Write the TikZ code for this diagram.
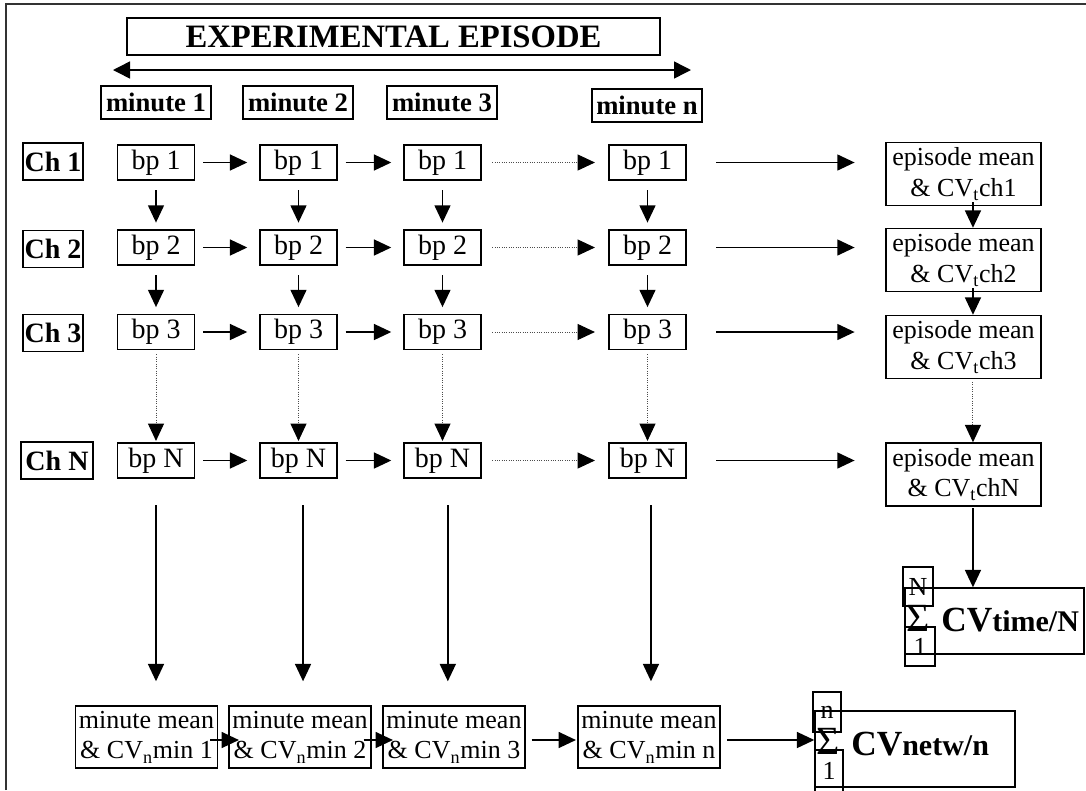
\documentclass[tikz,border=0pt]{standalone}
\usepackage{fontspec}
\setmainfont{Liberation Serif}
\usetikzlibrary{arrows.meta}
\tikzset{
  arr/.style={line width=1.1pt,-{Triangle[length=13pt,width=12pt]}},
  darr/.style={line width=0.75pt,draw=black!70,densely dotted,-{Triangle[length=13pt,width=12pt,color=black]}},
  box/.style={draw,line width=1.1pt,inner sep=0pt,align=center,font=\fontsize{19.5}{23}\selectfont},
  hbox/.style={box,font=\bfseries\fontsize{20}{24}\selectfont},
  chbox/.style={box,font=\bfseries\fontsize{21}{24}\selectfont,minimum height=27.75pt},
  mbox/.style={hbox,minimum width=82.5pt,minimum height=25pt},
  bpbox/.style={box,font=\fontsize{21}{24}\selectfont,minimum width=57.75pt,minimum height=26.25pt},
  epbox/.style={box,minimum width=116.25pt,minimum height=47.25pt},
  mmbox/.style={box,minimum width=106.5pt,minimum height=46.5pt},
  smbox/.style={box,minimum width=22.5pt,minimum height=29.25pt},
  sig/.style={inner sep=0pt,font=\fontsize{30}{30}\selectfont},
  big/.style={inner sep=0pt,anchor=base west,font=\bfseries},
}
\begin{document}
\begin{tikzpicture}[x=0.75pt,y=-0.75pt]
\useasboundingbox (0,0) rectangle (1086,790);
\draw[line width=1.5pt,black!80] (6,790) -- (6,4) -- (1086,4);
% title
\node[hbox,font=\bfseries\fontsize{24.5}{28}\selectfont,minimum width=399.75pt,minimum height=27.75pt] (title) at (393.5,36.5) {EXPERIMENTAL EPISODE};
\coordinate (epL) at (113,70);
\coordinate (epR) at (691,70);
\draw[line width=1.1pt,{Triangle[length=12.75pt,width=12.75pt]}-{Triangle[length=12.75pt,width=12.75pt]}] (epL) -- (epR);
% minute headers
\node[mbox] (m1) at (156,102.5) {minute 1};
\node[mbox] (m2) at (298,102.5) {minute 2};
\node[mbox] (m3) at (442,102.5) {minute 3};
\node[mbox] (mn) at (647,105.5) {minute n};
% channel labels
\node[chbox,minimum width=45pt] (ch1) at (53,161.5) {Ch 1};
\node[chbox,minimum width=45pt] (ch2) at (53,249) {Ch 2};
\node[chbox,minimum width=45pt] (ch3) at (53,333) {Ch 3};
\node[chbox,minimum width=54pt] (chN) at (57,460.5) {Ch N};
% bp boxes
\foreach \c/\x in {a/156,b/298.5,c/442.5,d/647.5}{
  \node[bpbox] (\c1) at (\x,162.5) {bp 1};
  \node[bpbox] (\c2) at (\x,247.5) {bp 2};
  \node[bpbox] (\c3) at (\x,332) {bp 3};
  \node[bpbox] (\c4) at (\x,460.5) {bp N};
}
% episode boxes
\node[epbox] (e1) at (963.5,174) {episode mean\\\& CV\textsubscript{t}ch1};
\node[epbox] (e2) at (963.5,260) {episode mean\\\& CV\textsubscript{t}ch2};
\node[epbox] (e3) at (963.5,347) {episode mean\\\& CV\textsubscript{t}ch3};
\node[epbox] (e4) at (963.5,474.5) {episode mean\\\& CV\textsubscript{t}chN};
% minute mean boxes
\node[mmbox] (mm1) at (146.5,737) {minute mean\\\& CV\textsubscript{n}min 1};
\node[mmbox] (mm2) at (300,737) {minute mean\\\& CV\textsubscript{n}min 2};
\node[mmbox] (mm3) at (454,737) {minute mean\\\& CV\textsubscript{n}min 3};
\node[mmbox] (mm4) at (649,737) {minute mean\\\& CV\textsubscript{n}min n};
% sum over time
\node[box,minimum width=134.25pt,minimum height=49.5pt] (st) at (994.5,621) {};
\node[smbox] (stN) at (918,586.5) {N};
\node[smbox] (st1) at (920,646.5) {1};
\node[sig] (stS) at (918.5,618.5) {Σ};
\node[big] (stT) at (941,631) {{\fontsize{26.5}{26.5}\selectfont CV}{\fontsize{22.5}{22.5}\selectfont time/N}};
% sum over network
\node[box,minimum width=150pt,minimum height=57pt] (sn) at (915,749) {};
\node[smbox,minimum width=21pt,minimum height=30pt] (snn) at (827,712) {n};
\node[smbox,minimum width=21pt,minimum height=31.5pt] (sn1) at (829,771) {1};
\node[sig] (snS) at (828,741) {Σ};
\node[big] (snT) at (851,755) {{\fontsize{26.5}{26.5}\selectfont CV}{\fontsize{22.5}{22.5}\selectfont netw/n}};
% horizontal arrows
\foreach \r in {1,2,3,4}{
  \draw[arr,shorten <=6pt,shorten >=9pt] (a\r.east) -- (b\r.west);
  \draw[arr,shorten <=6pt,shorten >=9pt] (b\r.east) -- (c\r.west);
  \draw[darr,shorten <=8pt,shorten >=10pt] (c\r.east) -- (d\r.west);
  \draw[arr,shorten <=22pt,shorten >=23pt] (d\r.east) -- (d\r.east -| e\r.west);
}
% vertical arrows between rows
\foreach \c in {a,b,c,d}{
  \draw[arr,shorten <=7pt,shorten >=5pt] (\c1.south) -- (\c2.north);
  \draw[arr,shorten <=7pt,shorten >=5pt] (\c2.south) -- (\c3.north);
  \draw[darr,shorten <=3pt,shorten >=1pt] (\c3.south) -- (\c4.north);
}
\draw[arr,shorten <=-3pt] ([xshift=7.1pt]e1.south) -- ([xshift=7.1pt]e2.north);
\draw[arr,shorten <=-3pt] ([xshift=7.1pt]e2.south) -- ([xshift=7.1pt]e3.north);
\draw[darr,shorten <=2pt] ([xshift=7.1pt]e3.south) -- ([xshift=7.1pt]e4.north);
\draw[arr,shorten <=1pt] ([xshift=7.1pt]e4.south) -- ([xshift=7.1pt]e4.south |- st.north);
% long vertical arrows
\draw[arr,shorten <=20pt,shorten >=18pt] (a4.south) -- (a4.south |- mm1.north);
\draw[arr,shorten <=20pt,shorten >=18pt] ([xshift=3.4pt]b4.south) -- ([xshift=3.4pt]b4.south |- mm2.north);
\draw[arr,shorten <=20pt,shorten >=18pt] ([xshift=4pt]c4.south) -- ([xshift=4pt]c4.south |- mm3.north);
\draw[arr,shorten <=20pt,shorten >=18pt] ([xshift=2.6pt]d4.south) -- ([xshift=2.6pt]d4.south |- mm4.north);
% bottom arrows
\draw[arr,shorten <=-6pt,shorten >=-8pt] ([yshift=-2.25pt]mm1.east) -- ([yshift=-2.25pt]mm2.west);
\draw[arr,shorten <=-6pt,shorten >=-8pt] ([yshift=-2.25pt]mm2.east) -- ([yshift=-2.25pt]mm3.west);
\draw[arr,shorten <=4.5pt,shorten >=1pt] ([yshift=-2.25pt]mm3.east) -- ([yshift=-2.25pt]mm4.west);
\draw[arr,shorten <=5pt] ([yshift=-2.25pt]mm4.east) -- ([yshift=-2.25pt]mm4.east -| sn.west);
\end{tikzpicture}
\end{document}
